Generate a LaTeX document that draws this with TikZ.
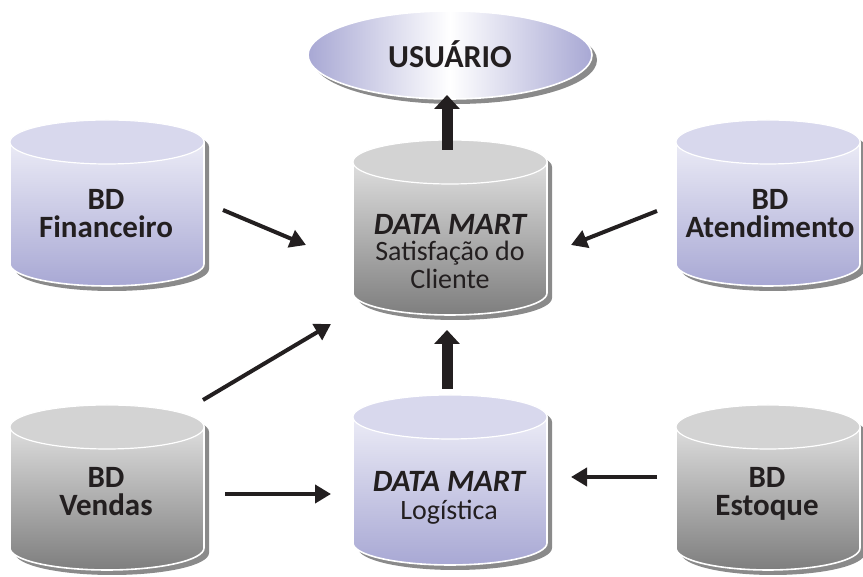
\documentclass[tikz,border=0pt]{standalone}
\usepackage{fontspec}
\setmainfont{Carlito}
\usetikzlibrary{arrows.meta}
\definecolor{lavtop}{HTML}{D8D8ED}
\definecolor{lavhi}{HTML}{F5F5FB}
\definecolor{lavlo}{HTML}{A8A8D4}
\definecolor{grytop}{HTML}{D3D3D3}
\definecolor{gryhi}{HTML}{ECECEC}
\definecolor{grylo}{HTML}{7E7E7E}
\definecolor{shad}{HTML}{8A8A8A}
\definecolor{ink}{HTML}{231F20}
% #1 cx, #2 top-ellipse centre y (px, down), #3 bottom-ellipse centre y, #4 rx, #5 ry, #6 hi, #7 lo, #8 top colour
\newcommand\dbcyl[8]{%
  \fill[shad] ({#1-#4+5},{577-#2-5}) -- ({#1-#4+5},{577-#3-5})
     arc[start angle=180,end angle=360,x radius=#4,y radius=#5]
     -- ({#1+#4+5},{577-#2-5})
     arc[start angle=0,end angle=180,x radius=#4,y radius=#5] -- cycle;
  \shadedraw[top color=#6,bottom color=#7,draw=white,line width=1.6pt]
     ({#1-#4},{577-#2}) -- ({#1-#4},{577-#3})
     arc[start angle=180,end angle=360,x radius=#4,y radius=#5]
     -- ({#1+#4},{577-#2})
     arc[start angle=0,end angle=180,x radius=#4,y radius=#5] -- cycle;
  \filldraw[fill=#8,draw=white,line width=1.2pt] ({#1},{577-#2}) ellipse [x radius=#4,y radius=#5];
}
\tikzset{
  bdtxt/.style={anchor=base,inner sep=0pt,text=ink,font=\fontsize{31}{31}\selectfont\bfseries},
  dmtxt/.style={anchor=base,inner sep=0pt,text=ink,font=\fontsize{31}{31}\selectfont\bfseries\itshape},
  rgtxt/.style={anchor=base,inner sep=0pt,text=ink,font=\fontsize{28}{28}\selectfont},
  thin/.style={line width=4pt,draw=ink,-{Triangle[width=18pt,length=16pt]}},
  thick/.style={line width=11pt,draw=ink,-{Triangle[width=25pt,length=14pt]}},
}
\begin{document}
\begin{tikzpicture}[x=1pt,y=1pt]
\useasboundingbox (0,0) rectangle (863,577);
\fill[white] (0,0) rectangle (863,577);

% USUARIO ellipse
\fill[shad] (455,{577-60}) ellipse [x radius=142,y radius=44];
\shadedraw[left color=lavlo,right color=lavlo,middle color=white,draw=white,line width=1.6pt]
  (450,{577-55}) ellipse [x radius=142,y radius=44];
\node[bdtxt,font=\fontsize{32}{32}\selectfont\bfseries] (usu) at (450,{577-68}) {USUÁRIO};

% cylinders
\dbcyl{107}{142}{264}{97}{22}{lavhi}{lavlo}{lavtop}
\dbcyl{450}{162}{293}{97}{22}{gryhi}{grylo}{grytop}
\dbcyl{768}{142}{264}{92}{22}{lavhi}{lavlo}{lavtop}
\dbcyl{107}{427}{548}{97}{22}{gryhi}{grylo}{grytop}
\dbcyl{450}{417}{543}{97}{22}{lavhi}{lavlo}{lavtop}
\dbcyl{768}{427}{548}{92}{22}{gryhi}{grylo}{grytop}

% labels
\node[bdtxt] (fin1) at (106,{577-210}) {BD};
\node[bdtxt] (fin2) at (106,{577-238}) {Financeiro};
\node[bdtxt] (ate1) at (770,{577-210}) {BD};
\node[bdtxt] (ate2) at (770,{577-238}) {Atendimento};
\node[bdtxt] (ven1) at (106,{577-488}) {BD};
\node[bdtxt] (ven2) at (106,{577-516}) {Vendas};
\node[bdtxt] (est1) at (767,{577-488}) {BD};
\node[bdtxt] (est2) at (767,{577-516}) {Estoque};
\node[dmtxt] (dms1) at (450,{577-235}) {DATA MART};
\node[rgtxt] (dms2) at (450,{577-261}) {Satisfação do};
\node[rgtxt] (dms3) at (450,{577-289}) {Cliente};
\node[dmtxt] (log1) at (449,{577-492}) {DATA MART};
\node[rgtxt] (log2) at (449,{577-520}) {Logística};

% arrow end points
\coordinate (u0) at (447,{577-150});
\coordinate (u1) at (447,{577-95});
\coordinate (l0) at (447,{577-389});
\coordinate (l1) at (447,{577-330});
\coordinate (f0) at (223,{577-210});
\coordinate (f1) at (306,{577-245});
\coordinate (a0) at (657,{577-211});
\coordinate (a1) at (571,{577-245});
\coordinate (v0) at (203,{577-400});
\coordinate (v1) at (331,{577-324});
\coordinate (w0) at (225,{577-494});
\coordinate (w1) at (331,{577-494});
\coordinate (e0) at (657,{577-477});
\coordinate (e1) at (571,{577-477});

\draw[thick] (u0) -- (u1);
\draw[thick] (l0) -- (l1);
\draw[thin] (f0) -- (f1);
\draw[thin] (a0) -- (a1);
\draw[thin] (v0) -- (v1);
\draw[thin] (w0) -- (w1);
\draw[thin] (e0) -- (e1);
\end{tikzpicture}
\end{document}
